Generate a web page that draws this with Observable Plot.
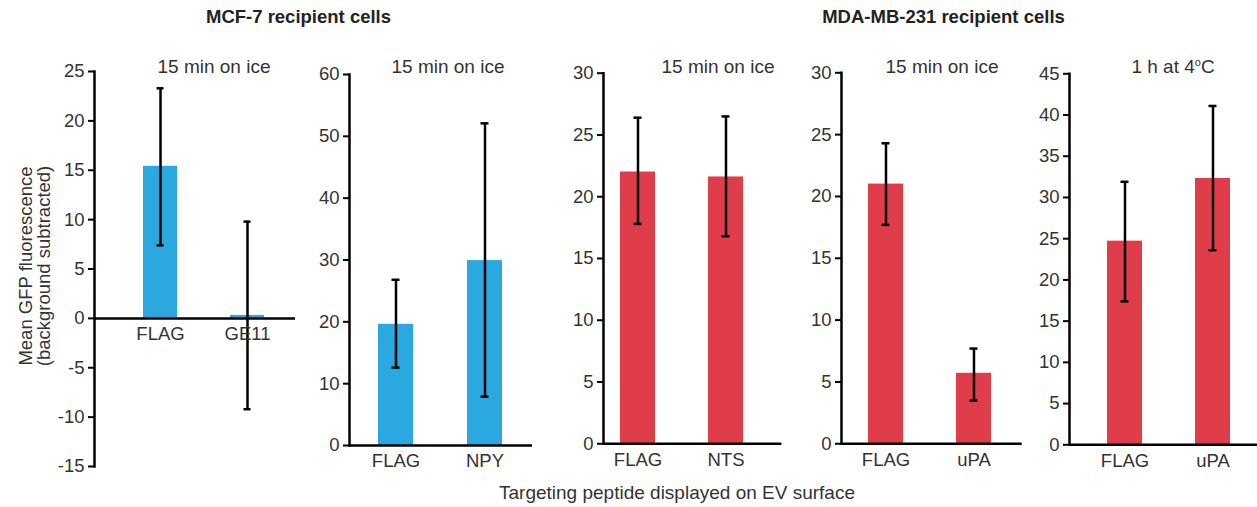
<!DOCTYPE html>
<html>
<head>
<meta charset="utf-8">
<script src="https://cdn.jsdelivr.net/npm/d3@7"></script>
<script src="https://cdn.jsdelivr.net/npm/@observablehq/plot@0.6"></script>
<style>
  html, body { margin: 0; padding: 0; background: #fff; }
  #root { position: relative; width: 1257px; height: 507px; overflow: hidden;
          font-family: "Liberation Sans", Arial, sans-serif; color: #333; }
  .abs { position: absolute; white-space: nowrap; }
  .group-title { font-weight: bold; font-size: 18.5px; color: #222; transform: translate(-50%, -50%); }
  .cond-title { font-size: 19px; color: #333; transform: translate(-50%, -50%); }
  .cond-title sup { font-size: 11px; vertical-align: 7px; line-height: 0; }
  .xlabel { font-size: 19px; color: #333; transform: translate(-50%, -50%); }
  .ylabel { font-size: 18.5px; color: #333; transform: translate(-50%, -50%) rotate(-90deg); text-align: center; line-height: 18px; }
  svg { position: absolute; top: 0; overflow: visible; }
</style>
</head>
<body>
<div id="root"></div>
<script>
// ---------------- data ----------------
const recipientCells = ["MCF-7 recipient cells", "MDA-MB-231 recipient cells"];
const panelGroup = [0, 0, 1, 1, 1];
const panelConditions = ["15 min on ice", "15 min on ice", "15 min on ice", "15 min on ice", "1 h at 4°C"];
const panelPeptides = [["FLAG", "GE11"], ["FLAG", "NPY"], ["FLAG", "NTS"], ["FLAG", "uPA"], ["FLAG", "uPA"]];
const meanValues  = [[15.4, 0.3], [19.6, 29.9], [22.0, 21.6], [21.0, 5.7], [24.7, 32.3]];
const errorUpper  = [[23.3, 9.8], [26.8, 52.1], [26.4, 26.5], [24.3, 7.7], [31.9, 41.1]];
const errorLower  = [[7.4, -9.2], [12.6, 7.9], [17.8, 16.8], [17.7, 3.5], [17.4, 23.6]];
const yDomains    = [[-15, 25], [0, 60], [0, 30], [0, 30], [0, 45]];
const yTickStep   = [5, 10, 5, 5, 5];
const yAxisTitle  = ["Mean GFP fluorescence", "(background subtracted)"];
const xAxisTitle  = "Targeting peptide displayed on EV surface";
const groupColors = ["#2aa8df", "#e03d4a"];

// ---------------- layout (pixels) ----------------
const layout = [
  {axis: 94,    end: 295,    top: 71,   bottom: 466,   po: 0.449, align: 0.62, title: 214},
  {axis: 349,   end: 532,    top: 74,   bottom: 445,   po: 0.33,  align: 0.49, title: 448},
  {axis: 603.3, end: 781.7,  top: 72.7, bottom: 443.3, po: 0.31,  align: 0.31, title: 718},
  {axis: 841,   end: 1021.7, top: 72.3, bottom: 443.3, po: 0.324, align: 0.46, title: 942},
  {axis: 1069,  end: 1257,   top: 73.3, bottom: 444.3, po: 0.365, align: 0.59, title: 1173}
];
const groupTitleX = [298.5, 943.5];
const svgH = 490;
const mLeft = 44;

const root = document.getElementById("root");

function addDiv(cls, html, x, y) {
  const d = document.createElement("div");
  d.className = "abs " + cls;
  d.innerHTML = html;
  d.style.left = x + "px";
  d.style.top = y + "px";
  root.appendChild(d);
  return d;
}

recipientCells.forEach((t, i) => addDiv("group-title", t, groupTitleX[i], 17));

panelPeptides.forEach((cats, p) => {
  const L = layout[p];
  const rows = cats.map((c, i) => ({
    peptide: c, mean: meanValues[p][i], lo: errorLower[p][i], hi: errorUpper[p][i]
  }));
  const [y0, y1] = yDomains[p];
  const ticks = d3.range(y0, y1 + 0.001, yTickStep[p]);
  const color = groupColors[panelGroup[p]];
  const plotW = mLeft + (L.end - L.axis);
  const bw = 35;
  const capInset = (bw - 8) / 2;

  const chart = Plot.plot({
    width: plotW,
    height: svgH,
    marginLeft: mLeft,
    marginRight: 0,
    marginTop: L.top,
    marginBottom: svgH - L.bottom,
    style: {background: "transparent", fontFamily: "'Liberation Sans', Arial, sans-serif", fontSize: "18px", color: "#333", overflow: "visible"},
    x: {domain: cats, paddingInner: 0.605, paddingOuter: L.po, align: L.align, axis: null},
    y: {domain: [y0, y1], axis: null},
    marks: [
      Plot.barY(rows, {x: "peptide", y: "mean", fill: color}),
      Plot.ruleY([0], {stroke: "black", strokeWidth: 2.5}),
      Plot.frame({anchor: "left", stroke: "black", strokeWidth: 2.5}),
      Plot.axisY({ticks, tickSize: 6, tickPadding: 4, stroke: "black", strokeWidth: 2, fill: "#333", fontSize: 18.5, tickFormat: d => String(d)}),
      Plot.ruleX(rows, {x: "peptide", y1: "lo", y2: "hi", stroke: "black", strokeWidth: 2.5}),
      Plot.tickY(rows, {x: "peptide", y: "hi", stroke: "black", strokeWidth: 2.5, insetLeft: capInset, insetRight: capInset}),
      Plot.tickY(rows, {x: "peptide", y: "lo", stroke: "black", strokeWidth: 2.5, insetLeft: capInset, insetRight: capInset}),
      Plot.text(rows, {x: "peptide", y: () => 0, text: "peptide", dy: 16, fontSize: 18.5, fill: "#333", lineAnchor: "middle"})
    ]
  });
  chart.style.left = (L.axis - mLeft) + "px";
  chart.style.top = "0px";
  chart.style.position = "absolute";
  root.appendChild(chart);

  const cond = panelConditions[p].replace("°", "<sup>o</sup>");
  addDiv("cond-title", cond, L.title, 67);
});

addDiv("ylabel", yAxisTitle.join("<br>"), 35, 266);
addDiv("xlabel", xAxisTitle, 677, 493);
</script>
</body>
</html>
